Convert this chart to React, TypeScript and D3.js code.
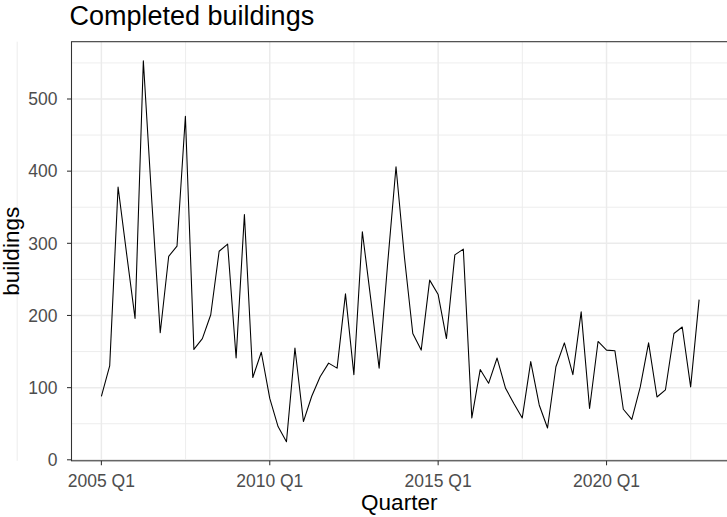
import React, { useRef, useEffect } from 'react';
import * as d3 from 'd3';

const years = [2005, 2006, 2007, 2008, 2009, 2010, 2011, 2012, 2013, 2014, 2015, 2016, 2017, 2018, 2019, 2020, 2021, 2022];
const quarterNames = ['Q1', 'Q2', 'Q3', 'Q4'];

// completed buildings per quarter, 2005 Q1 .. 2022 Q4
const buildings = [
  88, 130, 378, 286, 196, 553, 360, 176,
  282, 296, 476, 153, 168, 201, 289, 299,
  141, 340, 114, 149, 85, 46, 25, 155,
  53, 88, 115, 134, 127, 230, 118, 316,
  222, 127, 270, 406, 280, 175, 152, 249,
  229, 168, 284, 292, 58, 125, 106, 141,
  99, 78, 58, 136, 76, 44, 129, 162,
  118, 205, 71, 164, 152, 151, 70, 56,
  101, 162, 87, 97, 175, 184, 101, 222,
];

const xTickLabels = ['2005 Q1', '2010 Q1', '2015 Q1', '2020 Q1'];
const yTicks = [0, 100, 200, 300, 400, 500];
const yMinorTicks = [50, 150, 250, 350, 450, 550];

const quarterDate = (label: string) => {
  const [y, q] = label.split(' ');
  return new Date(+y, (+q.slice(1) - 1) * 3, 1);
};

const App: React.FC = () => {
  const svgRef = useRef<SVGSVGElement>(null);

  useEffect(() => {
    if (!svgRef.current) return;
    const svg = d3.select(svgRef.current);
    svg.selectAll('*').remove();

    const width = 727;
    const height = 517;
    const font = '"Liberation Sans", Arial, sans-serif';

    const quarters = years.flatMap(y => quarterNames.map(q => `${y} ${q}`));
    const data = quarters.map((q, i) => ({ date: quarterDate(q), value: buildings[i] }));

    const left = 71.5, right = 729, top = 41.7, bottom = 460.8;

    // ggplot style 5% expansion
    const [d0, d1] = d3.extent(data, d => d.date.getTime()) as [number, number];
    const dPad = (d1 - d0) * 0.05;
    const x = d3.scaleTime()
      .domain([new Date(d0 - dPad), new Date(d1 + dPad)])
      .range([left, right]);

    const [v0, v1] = d3.extent(data, d => d.value) as [number, number];
    const vPad = (v1 - v0) * 0.05;
    const y = d3.scaleLinear()
      .domain([v0 - vPad, v1 + vPad])
      .range([bottom, top]);

    svg.attr('width', width).attr('height', height);

    svg.append('rect')
      .attr('width', width).attr('height', height).attr('fill', '#fff');

    const xMajor = xTickLabels.map(quarterDate);
    const step = xMajor[1].getTime() - xMajor[0].getTime();
    const xMinor = [xMajor[0].getTime() - step, ...xMajor.map(d => d.getTime())]
      .map(t => new Date(t + step / 2));

    const grid = svg.append('g');
    grid.selectAll('.ymin').data(yMinorTicks).enter().append('line')
      .attr('x1', left).attr('x2', right)
      .attr('y1', d => y(d)).attr('y2', d => y(d))
      .attr('stroke', '#EBEBEB').attr('stroke-width', 0.9);
    grid.selectAll('.xmin').data(xMinor).enter().append('line')
      .attr('x1', d => x(d)).attr('x2', d => x(d))
      .attr('y1', top).attr('y2', bottom)
      .attr('stroke', '#EBEBEB').attr('stroke-width', 0.9);
    grid.selectAll('.ymaj').data(yTicks).enter().append('line')
      .attr('x1', left).attr('x2', right)
      .attr('y1', d => y(d)).attr('y2', d => y(d))
      .attr('stroke', '#EBEBEB').attr('stroke-width', 1.5);
    grid.selectAll('.xmaj').data(xMajor).enter().append('line')
      .attr('x1', d => x(d)).attr('x2', d => x(d))
      .attr('y1', top).attr('y2', bottom)
      .attr('stroke', '#EBEBEB').attr('stroke-width', 1.5);

    const line = d3.line<{ date: Date; value: number }>()
      .x(d => x(d.date))
      .y(d => y(d.value));

    svg.append('path')
      .datum(data)
      .attr('d', line)
      .attr('fill', 'none')
      .attr('stroke', '#000')
      .attr('stroke-width', 1.07)
      .attr('stroke-linejoin', 'round');

    svg.append('rect')
      .attr('x', left).attr('y', top)
      .attr('width', right - left).attr('height', bottom - top)
      .attr('fill', 'none').attr('stroke', '#333333').attr('stroke-width', 1.07);

    // y axis
    const yAxis = svg.append('g');
    yAxis.selectAll('line').data(yTicks).enter().append('line')
      .attr('x1', left - 4.5).attr('x2', left)
      .attr('y1', d => y(d)).attr('y2', d => y(d))
      .attr('stroke', '#333333').attr('stroke-width', 1.07);
    yAxis.selectAll('text').data(yTicks).enter().append('text')
      .attr('x', left - 14).attr('y', d => y(d))
      .attr('dy', '0.36em')
      .attr('text-anchor', 'end')
      .attr('font-family', font).attr('font-size', 17.5)
      .attr('fill', '#4D4D4D')
      .text(d => d);

    // x axis
    const xAxis = svg.append('g');
    xAxis.selectAll('line').data(xMajor).enter().append('line')
      .attr('x1', d => x(d)).attr('x2', d => x(d))
      .attr('y1', bottom).attr('y2', bottom + 4.5)
      .attr('stroke', '#333333').attr('stroke-width', 1.07);
    xAxis.selectAll('text').data(xTickLabels).enter().append('text')
      .attr('x', (d: string) => x(quarterDate(d)))
      .attr('y', 487)
      .attr('text-anchor', 'middle')
      .attr('font-family', font).attr('font-size', 17.5)
      .attr('fill', '#4D4D4D')
      .text(d => d);

    svg.append('text')
      .attr('x', (left + right) / 2 - 1).attr('y', 509.5)
      .attr('text-anchor', 'middle')
      .attr('font-family', font).attr('font-size', 22.5)
      .attr('fill', '#000')
      .text('Quarter');

    svg.append('text')
      .attr('transform', `translate(19,${(top + bottom) / 2}) rotate(-90)`)
      .attr('text-anchor', 'middle')
      .attr('font-family', font).attr('font-size', 22.5)
      .attr('fill', '#000')
      .text('buildings');

    svg.append('text')
      .attr('x', left - 2).attr('y', 25)
      .attr('font-family', font).attr('font-size', 27)
      .attr('fill', '#000')
      .text('Completed buildings');
  }, []);

  return <svg ref={svgRef} style={{ position: 'absolute', left: 0, top: 0 }}></svg>;
};

export default App;
